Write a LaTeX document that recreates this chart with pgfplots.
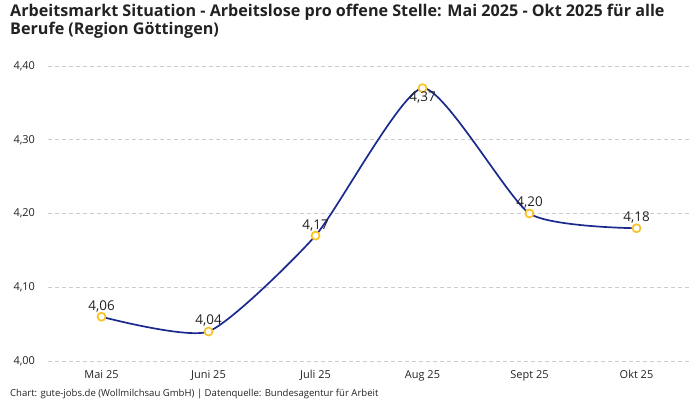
\documentclass[border=0pt]{standalone}
\usepackage{fontspec}
\setmainfont{Open Sans}
\usepackage{pgfplots}
\usepackage{pgfplotstable}
\pgfplotsset{compat=1.18}
\definecolor{linec}{HTML}{1B2A8C}
\definecolor{markc}{HTML}{F7C325}
\definecolor{gridc}{HTML}{CCCCCC}
\definecolor{txt}{HTML}{222222}
\pgfplotstableread{
x y lab
0 4.06 {4,06}
1 4.04 {4,04}
2 4.17 {4,17}
3 4.37 {}
4 4.20 {4,20}
5 4.18 {4,18}
}\data
\begin{document}
\begin{tikzpicture}[x=1bp,y=1bp]
\path[use as bounding box] (0,0) rectangle (700,400);
\node[anchor=north west, align=left, font=\bfseries\fontsize{16.2}{18}\selectfont, text=txt, inner sep=0pt] at (10,396) {Arbeitsmarkt Situation - Arbeitslose pro offene Stelle: Mai 2025 - Okt 2025 für alle\\Berufe (Region Göttingen)};
\node[anchor=base west, font=\fontsize{9.6}{10}\selectfont, text=txt, inner sep=0pt] at (10,4) {Chart: gute-jobs.de (Wollmilchsau GmbH) | Datenquelle: Bundesagentur für Arbeit};
\begin{axis}[
  at={(48bp,39bp)}, anchor=south west,
  width=642bp, height=295bp, scale only axis,
  xmin=-0.5, xmax=5.5, ymin=4.0, ymax=4.4,
  axis line style={draw=none},
  xtick={0,1,2,3,4,5},
  xticklabels={Mai 25,Juni 25,Juli 25,Aug 25,Sept 25,Okt 25},
  ytick={4.0,4.1,4.2,4.3,4.4},
  major tick length=0pt,
  ymajorgrids, grid style={gridc, dash pattern=on 4bp off 3bp, line width=0.8bp},
  /pgf/number format/.cd, assume math mode=true, use comma, fixed, fixed zerofill, precision=2,
  /pgfplots/.cd,
  tick label style={font=\fontsize{11}{13}\selectfont, text=txt},
  yticklabel style={anchor=west, xshift=-38bp},
  xticklabel style={yshift=-6bp},
  clip=false,
]
\addplot[linec, line width=1.7bp, smooth, tension=0.35,
  mark=*, mark size=4bp,
  mark options={draw=markc, fill=white, line width=1.7bp},
  nodes near coords,
  point meta=explicit symbolic,
  every node near coord/.append style={anchor=south, font=\fontsize{13.5}{15}\selectfont, text=txt, inner sep=4bp},
] table[x=x, y=y, meta=lab] {\data};
\addplot[draw=none, mark=none,
  nodes near coords, point meta=explicit symbolic,
  every node near coord/.append style={anchor=north, font=\fontsize{13.5}{15}\selectfont, text=txt, inner sep=3bp},
] coordinates {(3,4.37)[4,37]};
\end{axis}
\end{tikzpicture}
\end{document}
